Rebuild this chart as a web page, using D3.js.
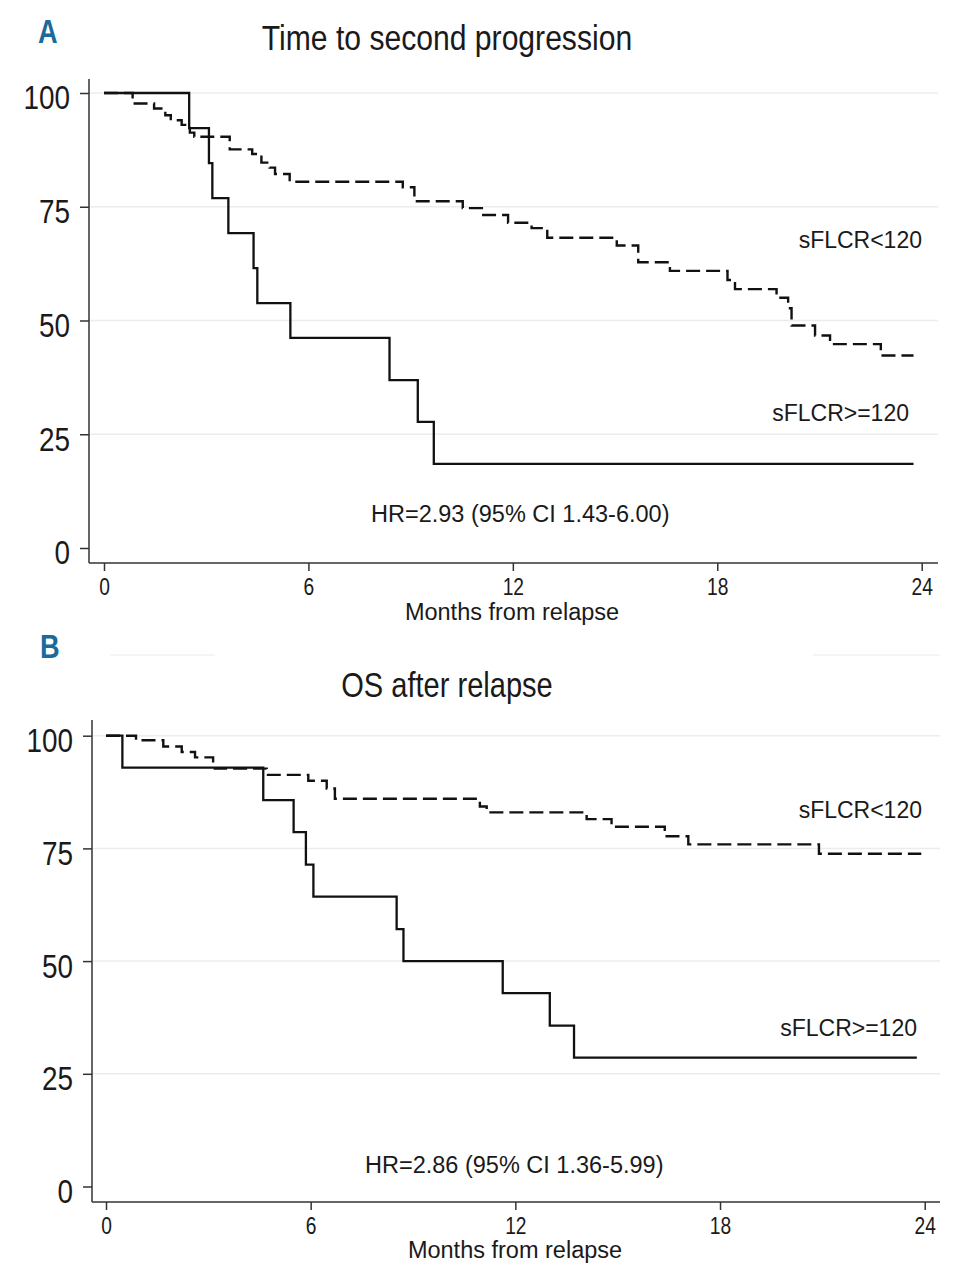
<!DOCTYPE html>
<html>
<head>
<meta charset="utf-8">
<script src="https://cdn.jsdelivr.net/npm/d3@7"></script>
<style>
  body { margin: 0; background: #fff; }
  svg { display: block; }
  .narrow, .plain { font-family: "Liberation Sans", Arial, sans-serif; }
</style>
</head>
<body>
<div id="chart"></div>
<script>
// tick values shared by both panels
const xTicks = [0, 6, 12, 18, 24];
const yTicks = [0, 25, 50, 75, 100];
const gridVals = [25, 50, 75, 100];

// A: time to second progression (months, % free of progression)
const ttpHighTime = [0, 2.5, 3.08, 3.18, 3.65, 4.39, 4.5, 5.47, 8.38, 9.21, 9.68, 23.76];
const ttpHighSurv = [100, 92.3, 84.6, 76.9, 69.2, 61.5, 53.8, 46.2, 36.9, 27.7, 18.5, 18.5];
const ttpLowTime = [0, 0.84, 1.47, 1.8, 1.96, 2.28, 2.38, 2.52, 2.65, 3.69, 4.35, 4.62, 4.86, 5.02, 5.45,
  8.77, 9.11, 10.53, 11.09, 11.86, 12.55, 13.01, 15.05, 15.68, 16.61, 18.3, 18.52, 19.74, 20.08, 20.18,
  20.87, 21.31, 22.8, 23.76];
const ttpLowSurv = [100, 97.7, 96.6, 95.1, 94.0, 93.0, 92.3, 91.3, 90.4, 87.6, 86.6, 84.7, 83.6, 82.2, 80.5,
  79.3, 76.2, 74.7, 73.2, 71.5, 70.3, 68.2, 66.5, 62.8, 60.9, 58.9, 56.9, 55.0, 52.7, 48.9,
  46.7, 44.8, 42.3, 42.3];

// B: overall survival after relapse
const osHighTime = [0, 0.48, 4.61, 5.5, 5.86, 6.08, 8.52, 8.72, 11.63, 13.01, 13.72, 23.77];
const osHighSurv = [100, 92.9, 85.7, 78.6, 71.4, 64.3, 57.1, 50.0, 42.9, 35.7, 28.6, 28.6];
const osLowTime = [0, 0.88, 1.68, 2.22, 2.61, 3.14, 3.19, 4.71, 5.93, 6.47, 6.71, 10.96, 11.16,
  14.09, 14.82, 16.38, 17.07, 20.9, 23.9];
const osLowSurv = [100, 99.0, 97.6, 96.4, 95.2, 94.0, 92.7, 91.3, 90.0, 88.3, 86.0, 84.3, 83.0,
  81.5, 79.8, 77.7, 75.9, 73.8, 73.8];

const width = 957, height = 1280;
const svg = d3.select('#chart').append('svg')
  .attr('width', width)
  .attr('height', height);

function toPoints(times, surv) {
  return times.map((t, i) => ({ t: t, s: surv[i] }));
}

// no narrow font installed, so squeeze the glyphs like the original condensed face
function squeeze(sel, f) {
  sel.each(function() {
    const w = this.getComputedTextLength();
    this.setAttribute('textLength', w * f);
    this.setAttribute('lengthAdjust', 'spacingAndGlyphs');
  });
}

function drawPanel(p) {
  const x = d3.scaleLinear().domain([0, 24]).range([p.x0, p.x24]);
  const y = d3.scaleLinear().domain([0, 100]).range([p.y0, p.y100]);
  const g = svg.append('g');

  // panel letter + title
  g.append('text').attr('class', 'narrow')
    .attr('x', p.letterX).attr('y', p.letterY)
    .style('font-size', '34px').style('font-weight', 'bold').style('fill', '#1b6a9c')
    .text(p.letter)
    .call(squeeze, 0.8);
  g.append('text').attr('class', 'narrow')
    .attr('x', 447).attr('y', p.titleY)
    .attr('text-anchor', 'middle')
    .style('font-size', '35px').style('fill', '#1a1a1a')
    .text(p.title)
    .call(squeeze, p.titleSqueeze);

  // light grid
  g.selectAll('.grid').data(gridVals).enter().append('line')
    .attr('x1', p.axisX + 1).attr('x2', p.right)
    .attr('y1', d => y(d)).attr('y2', d => y(d))
    .attr('stroke', '#ececec').attr('stroke-width', 1.5);

  // axis lines
  g.append('line').attr('x1', p.axisX).attr('x2', p.axisX)
    .attr('y1', p.axisTop).attr('y2', p.axisY)
    .attr('stroke', '#333').attr('stroke-width', 1.5);
  g.append('line').attr('x1', p.axisX).attr('x2', p.right)
    .attr('y1', p.axisY).attr('y2', p.axisY)
    .attr('stroke', '#333').attr('stroke-width', 1.5);

  const yAxis = g.append('g')
    .attr('transform', `translate(${p.axisX},0)`)
    .call(d3.axisLeft(y).tickValues(yTicks).tickSize(9).tickPadding(10));
  yAxis.select('.domain').remove();
  yAxis.selectAll('line').attr('stroke', '#333').attr('stroke-width', 1.5);
  yAxis.selectAll('text').attr('class', 'narrow')
    .style('font-size', '34px').style('fill', '#1a1a1a').attr('dy', '0.47em')
    .call(squeeze, 0.82);

  const xAxis = g.append('g')
    .attr('transform', `translate(0,${p.axisY})`)
    .call(d3.axisBottom(x).tickValues(xTicks).tickSize(8).tickPadding(7));
  xAxis.select('.domain').remove();
  xAxis.selectAll('line').attr('stroke', '#333').attr('stroke-width', 1.5);
  xAxis.selectAll('text').attr('class', 'narrow')
    .style('font-size', '24px').style('fill', '#1a1a1a')
    .call(squeeze, 0.8);

  g.append('text').attr('class', 'plain')
    .attr('x', p.xLabelX).attr('y', p.xLabelY)
    .attr('text-anchor', 'middle')
    .style('font-size', '23.5px').style('fill', '#1a1a1a')
    .text('Months from relapse');

  // KM step curves
  const line = d3.line()
    .x(d => x(d.t)).y(d => y(d.s))
    .curve(d3.curveStepAfter);
  g.append('path').datum(toPoints(p.lowTime, p.lowSurv))
    .attr('d', line).attr('fill', 'none')
    .attr('stroke', '#111').attr('stroke-width', 2.4)
    .attr('stroke-dasharray', '14,6');
  g.append('path').datum(toPoints(p.highTime, p.highSurv))
    .attr('d', line).attr('fill', 'none')
    .attr('stroke', '#111').attr('stroke-width', 2.3);

  // curve labels and HR
  g.append('text').attr('class', 'plain')
    .attr('x', 922).attr('y', p.lowLabelY).attr('text-anchor', 'end')
    .style('font-size', '23px').style('fill', '#1a1a1a')
    .text('sFLCR<120');
  g.append('text').attr('class', 'plain')
    .attr('x', p.highLabelX).attr('y', p.highLabelY).attr('text-anchor', 'end')
    .style('font-size', '23px').style('fill', '#1a1a1a')
    .text('sFLCR>=120');
  g.append('text').attr('class', 'plain')
    .attr('x', p.hrX).attr('y', p.hrY)
    .style('font-size', '23.5px').style('fill', '#1a1a1a')
    .text(p.hr);
}

drawPanel({
  letter: 'A', letterX: 38, letterY: 43,
  title: 'Time to second progression', titleY: 50, titleSqueeze: 0.86,
  x0: 104, x24: 921.7, y0: 548, y100: 93,
  axisX: 89, axisY: 563, axisTop: 79, right: 938,
  xLabelX: 512, xLabelY: 620,
  highTime: ttpHighTime, highSurv: ttpHighSurv,
  lowTime: ttpLowTime, lowSurv: ttpLowSurv,
  lowLabelY: 248, highLabelX: 909, highLabelY: 421,
  hr: 'HR=2.93 (95% CI 1.43-6.00)', hrX: 371, hrY: 522
});

drawPanel({
  letter: 'B', letterX: 40, letterY: 658,
  title: 'OS after relapse', titleY: 697, titleSqueeze: 0.83,
  x0: 106, x24: 924.7, y0: 1186.5, y100: 735.7,
  axisX: 92, axisY: 1202, axisTop: 720, right: 940,
  xLabelX: 515, xLabelY: 1258,
  highTime: osHighTime, highSurv: osHighSurv,
  lowTime: osLowTime, lowSurv: osLowSurv,
  lowLabelY: 818, highLabelX: 917, highLabelY: 1036,
  hr: 'HR=2.86 (95% CI 1.36-5.99)', hrX: 365, hrY: 1173
});

// faint separator traces between the panels
svg.append('line').attr('x1', 110).attr('x2', 215).attr('y1', 655).attr('y2', 655)
  .attr('stroke', '#f2f2f2').attr('stroke-width', 1.5);
svg.append('line').attr('x1', 813).attr('x2', 940).attr('y1', 655).attr('y2', 655)
  .attr('stroke', '#f2f2f2').attr('stroke-width', 1.5);
</script>
</body>
</html>
